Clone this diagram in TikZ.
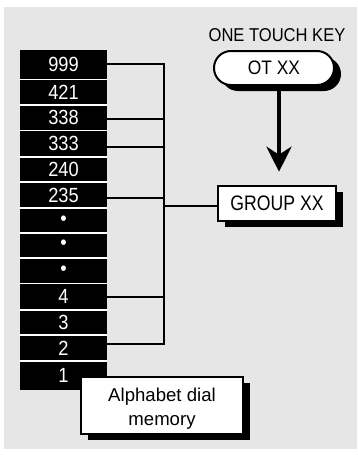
\documentclass[tikz,border=0pt]{standalone}
\usepackage{fontspec}
\setmainfont{Liberation Sans}
\newfontfamily\condA{Liberation Sans}[FakeStretch=0.89]
\newfontfamily\condB{Liberation Sans}[FakeStretch=0.84]
\usetikzlibrary{shapes.misc,shadows,arrows.meta}
\definecolor{bg}{RGB}{230,230,230}
\begin{document}
\begin{tikzpicture}[x=1pt,y=-1pt,
  rowbox/.style={fill=black, text=white, minimum width=87pt, inner sep=0pt, font=\condA\fontsize{20.5}{22}\selectfont},
  conn/.style={line width=2pt},
  boxshadow/.style={drop shadow={fill=black, opacity=1, shadow xshift=7pt, shadow yshift=-6pt}},
  whitebox/.style={draw=black, line width=2pt, fill=white, boxshadow, inner sep=0pt},
]
\useasboundingbox (0,0) rectangle (357,458);
\fill[bg] (4,7) rectangle (357,449);

\foreach \n/\t/\a/\b in {1/999/50/79.3, 2/421/79.3/104.7, 3/338/104.7/130.3, 4/333/130.3/156.7, 5/240/156.7/182, 6/235/182/208, 7/\textbullet/208/232.5, 8/\textbullet/232.5/257.5, 9/\textbullet/257.5/283.3, 10/4/283.3/310, 11/3/310/335, 12/2/335/360.7, 13/1/360.7/390}
  \node[rowbox, minimum height={(\b-\a)*1pt}] (r\n) at (63.5,{(\a+\b)/2}) {\t};
\foreach \n in {1,...,12}
  \draw[white, line width=1.8pt] (r\n.south west) -- (r\n.south east);

% connectors
\coordinate (bus) at (164.3,200);
\coordinate (l1) at ([yshift=0.65pt]r1.east);
\coordinate (l3) at ([yshift=-1.5pt]r3.east);
\coordinate (l4) at ([yshift=-3.3pt]r4.east);
\coordinate (l6) at ([yshift=-2.7pt]r6.east);
\coordinate (l10) at (r10.east);
\coordinate (l12) at ([yshift=3.5pt]r12.east);
\draw[conn, line join=miter] (l1) -- (l1 -| bus) -- (l12 -| bus) -- (l12);
\foreach \n in {3,4,6,10}
  \draw[conn] (l\n) -- (l\n -| bus);

% group box
\node[whitebox, minimum width=118pt, minimum height=35pt, font=\condB\fontsize{21}{22}\selectfont] (grp) at (277,203.5) {GROUP XX};
\coordinate (lg) at ([yshift=-2.2pt]grp.west);
\draw[conn] (lg -| bus) -- (lg);

% one touch key
\node[font=\condA\fontsize{18.6}{20}\selectfont, inner sep=0pt] (otk) at (277,35) {ONE TOUCH KEY};
\node[whitebox, rounded rectangle, minimum width=120pt, minimum height=34pt, font=\condA\fontsize{19.5}{21}\selectfont] (ot) at (274,68) {OT XX};
\coordinate (tip) at (279,171.7);
\coordinate (ab) at ([yshift=-5pt]ot.south);
\draw[line width=4.5pt, -{Stealth[length=25pt, width=25pt, inset=8pt]}] (ab -| tip) -- (tip);

% alphabet dial memory
\node[whitebox, minimum width=162pt, minimum height=57.5pt] (adm) at (162,405.25) {};
\node[font=\fontsize{18.6}{23.5}\selectfont, align=center, inner sep=0pt] (admtxt) at ([yshift=-3.6pt]adm.center) {Alphabet dial\\memory};
\end{tikzpicture}
\end{document}
